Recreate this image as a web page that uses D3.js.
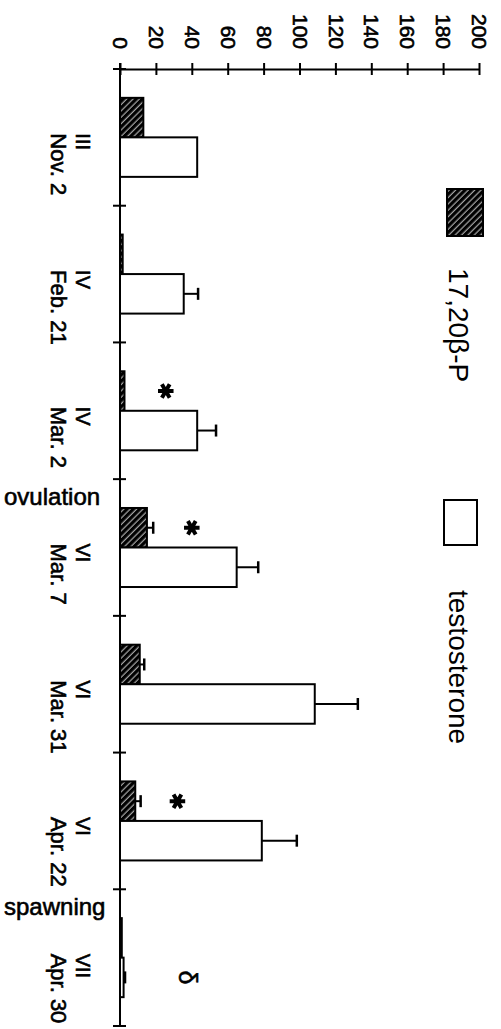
<!DOCTYPE html>
<html>
<head>
<meta charset="utf-8">
<script src="https://cdn.jsdelivr.net/npm/d3@7"></script>
<style>
body { margin: 0; background: #fff; }
text { font-family: "Liberation Sans", Arial, sans-serif; fill: #000; }
</style>
</head>
<body>
<svg id="chart" width="501" height="1029"></svg>
<script>
// sampling dates (gonad stage + date)
var stages = ["III", "IV", "IV", "VI", "VI", "VI", "VII"];
var dates = ["Nov. 2", "Feb. 21", "Mar. 2", "Mar. 7", "Mar. 31", "Apr. 22", "Apr. 30"];

// plasma levels, mean and SE
var p1720 = [13, 1.5, 2.5, 15, 11, 8.5, 1];
var p1720Err = [0, 0, 0, 3.5, 2.5, 3, 0];
var testo = [43, 35.5, 43, 65, 108.5, 79, 2];
var testoErr = [0, 8, 10.5, 12, 24, 19.5, 0.8];

// where the asterisks sit (value units), null = none
var starAt = [null, null, 25.5, 40, null, 32, null];

var valueTicks = [0, 20, 40, 60, 80, 100, 120, 140, 160, 180, 200];

// events drawn on the boundary before category index
var events = [
	{ before: 3, label: "ovulation" },
	{ before: 6, label: "spawning" }
];

var svg = d3.select("#chart");

var defs = svg.append("defs");
var hatch = defs.append("pattern")
	.attr("id", "hatch")
	.attr("patternUnits", "userSpaceOnUse")
	.attr("width", 4.5)
	.attr("height", 4.5)
	.attr("patternTransform", "rotate(45)");
hatch.append("rect").attr("width", 4.5).attr("height", 4.5).attr("fill", "#000");
hatch.append("line")
	.attr("x1", 2).attr("y1", 0).attr("x2", 2).attr("y2", 4.5)
	.attr("stroke", "#fff").attr("stroke-width", 0.8);

var x = d3.scaleLinear().domain([0, 200]).range([120, 479]);
var y = d3.scaleBand().domain(d3.range(dates.length)).range([69, 1026]);
var sub = d3.scaleBand().domain(["p", "t"]).range([0, y.step()]).paddingOuter(0.73);

// value axis along the top
var axis = d3.axisTop(x).tickValues(valueTicks).tickSize(6).tickSizeOuter(0);
var ga = svg.append("g")
	.attr("transform", "translate(0,69)")
	.call(axis);
ga.attr("font-family", null).attr("font-size", null);
ga.select(".domain").attr("stroke-width", 2);
ga.selectAll(".tick line").attr("y1", -6).attr("y2", 6).attr("stroke-width", 2);
ga.selectAll(".tick text")
	.attr("transform", "rotate(90)")
	.attr("x", -20)
	.attr("y", 0)
	.attr("dy", ".35em")
	.attr("text-anchor", "end")
	.style("font-size", "21px")
	.style("stroke", "#000")
	.style("stroke-width", "0.6px");

// category axis along the left
var bounds = y.domain().map(function(i) { return y(i); }).concat([y.range()[1]]);
svg.append("line")
	.attr("x1", x(0)).attr("x2", x(0))
	.attr("y1", y.range()[0] - 6).attr("y2", y.range()[1])
	.attr("stroke", "#000").attr("stroke-width", 2);
svg.selectAll(".ctick")
	.data(bounds)
	.enter().append("line")
	.attr("class", "ctick")
	.attr("x1", x(0) - 7).attr("x2", x(0) + 6)
	.attr("y1", function(d) { return d; })
	.attr("y2", function(d) { return d; })
	.attr("stroke", "#000").attr("stroke-width", 2);

var labels = svg.selectAll(".clabel")
	.data(dates)
	.enter().append("text")
	.attr("class", "clabel")
	.attr("transform", function(d, i) {
		return "translate(0," + (y(i) + y.bandwidth() / 2 - 4) + ") rotate(90)";
	})
	.style("stroke", "#000")
	.style("stroke-width", "0.6px");
labels.append("tspan")
	.attr("x", 0)
	.attr("y", -76)
	.style("font-size", "20px")
	.text(function(d, i) { return stages[i]; });
labels.append("tspan")
	.attr("x", 0)
	.attr("y", -51)
	.style("font-size", "22px")
	.text(function(d) { return d; });

svg.selectAll(".event")
	.data(events)
	.enter().append("text")
	.attr("class", "event")
	.attr("x", 4)
	.attr("y", function(d) { return y(d.before) + 26; })
	.style("font-size", "24px")
	.style("stroke", "#000")
	.style("stroke-width", "0.6px")
	.text(function(d) { return d.label; });

// bars
function drawSeries(key, values, errs, fill) {
	var g = svg.append("g");
	g.selectAll("rect")
		.data(values)
		.enter().append("rect")
		.attr("x", x(0))
		.attr("y", function(d, i) { return y(i) + sub(key); })
		.attr("width", function(d) { return x(d) - x(0); })
		.attr("height", sub.bandwidth())
		.attr("fill", fill)
		.attr("stroke", "#000")
		.attr("stroke-width", 2);

	values.forEach(function(v, i) {
		if (!errs[i]) return;
		var cy = y(i) + sub(key) + sub.bandwidth() / 2;
		g.append("line")
			.attr("x1", x(v)).attr("x2", x(v + errs[i]))
			.attr("y1", cy).attr("y2", cy)
			.attr("stroke", "#000").attr("stroke-width", 2);
		g.append("line")
			.attr("x1", x(v + errs[i])).attr("x2", x(v + errs[i]))
			.attr("y1", cy - 6).attr("y2", cy + 6)
			.attr("stroke", "#000").attr("stroke-width", 2.5);
	});
}

drawSeries("p", p1720, p1720Err, "url(#hatch)");
drawSeries("t", testo, testoErr, "#fff");

// significance marks
var star = d3.symbol().type(d3.symbolAsterisk).size(170);
starAt.forEach(function(v, i) {
	if (v === null) return;
	svg.append("path")
		.attr("d", star)
		.attr("transform", "translate(" + x(v) + "," + (y(i) + sub("p") + sub.bandwidth() / 2) + ") rotate(90)")
		.attr("fill", "none")
		.attr("stroke", "#000")
		.attr("stroke-width", 4);
});

// male symbol note on the last sample
svg.append("text")
	.attr("transform", "translate(" + x(38) + "," + (y(6) + sub("t") + sub.bandwidth() / 2) + ") rotate(90)")
	.attr("text-anchor", "middle")
	.attr("dy", ".35em")
	.style("font-size", "25px")
	.style("stroke", "#000")
	.style("stroke-width", "0.6px")
	.text("δ");

// legend
var legend = [
	{ label: "17,20β-P", fill: "url(#hatch)", box: [447, 189, 36, 47], text: 268 },
	{ label: "testosterone", fill: "#fff", box: [444, 500, 33, 45], text: 590 }
];
legend.forEach(function(l) {
	svg.append("rect")
		.attr("x", l.box[0]).attr("y", l.box[1])
		.attr("width", l.box[2]).attr("height", l.box[3])
		.attr("fill", l.fill)
		.attr("stroke", "#000").attr("stroke-width", 2);
	svg.append("text")
		.attr("transform", "translate(449," + l.text + ") rotate(90)")
		.style("font-size", "28px")
		.text(l.label);
});
</script>
</body>
</html>
